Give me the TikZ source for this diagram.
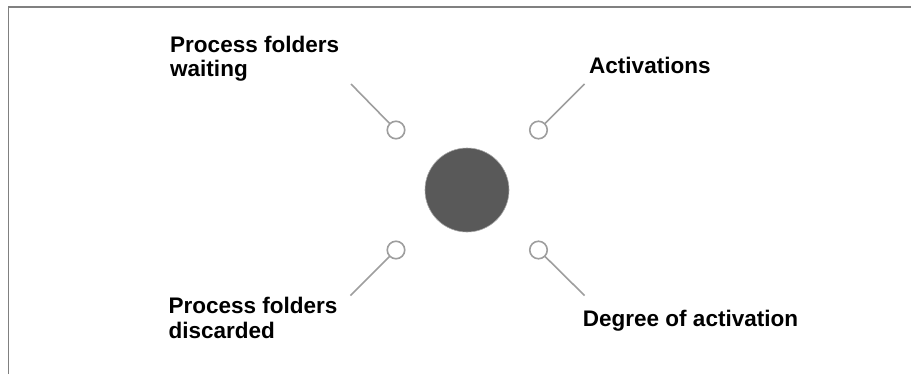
\documentclass[tikz,border=0pt]{standalone}
\usepackage{fontspec}
\setmainfont{Liberation Sans}
\begin{document}
\begin{tikzpicture}[x=1bp,y=-1bp,
  frameline/.style={draw=black!50,line width=1.8bp},
  hub/.style={circle,fill=black!65,draw=black!35,line width=0.6bp,minimum size=84bp,inner sep=0pt},
  port/.style={circle,draw=black!38,fill=white,line width=1.6bp,minimum size=17.5bp,inner sep=0pt,outer sep=0pt},
  lead/.style={draw=black!38,line width=1.6bp},
  lbl/.style={font=\fontsize{22.6}{24.4}\selectfont\bfseries,align=left,inner sep=0pt,anchor=base west}]
  \useasboundingbox (0,0) rectangle (911,374);
  % frame: top and left edges
  \draw[frameline] (8.5,374) -- (8.5,7) -- (911,7);
  % hub and its four ports
  \node[hub] (hub) at (467,190) {};
  \node[port] (ptl) at (396,130) {};
  \node[port] (ptr) at (538.5,130) {};
  \node[port] (pbl) at (396,250) {};
  \node[port] (pbr) at (538.5,250) {};
  % free ends of the leads
  \coordinate (etl) at (351,84);
  \coordinate (etr) at (584.5,84);
  \coordinate (ebl) at (350.5,295.5);
  \coordinate (ebr) at (584.5,295.5);
  \draw[lead] (ptl) -- (etl);
  \draw[lead] (ptr) -- (etr);
  \draw[lead] (pbl) -- (ebl);
  \draw[lead] (pbr) -- (ebr);
  % labels (base anchor sits on the last line of a two-line label)
  \node[lbl] (ltl) at (170,76.7) {Process folders\\waiting};
  \node[lbl] (ltr) at (589,73.5) {Activations};
  \node[lbl] (lbl1) at (168.3,338.3) {Process folders\\discarded};
  \node[lbl] (lbr) at (582.7,326.5) {Degree of activation};
\end{tikzpicture}
\end{document}
